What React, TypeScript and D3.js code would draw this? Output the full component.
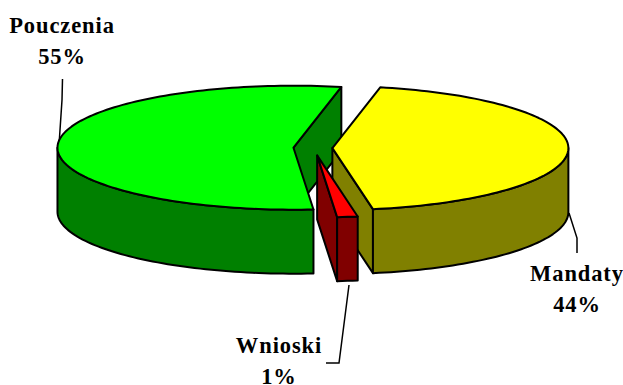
import React from 'react';
import * as d3 from 'd3';

const categories = ['Mandaty', 'Wnioski', 'Pouczenia'];
const shares = [44, 1.4, 54.6];
const percentLabels = ['44%', '1%', '55%'];
const topColors = ['#ffff00', '#ff0000', '#00ff00'];
const sideColors = ['#808000', '#800000', '#008000'];
const explode = [0.08, 0.12, 0.085];
const drawOrder = [2, 0, 1];

const labelPos = [
    { x: 577, y: 281 },
    { x: 279, y: 353 },
    { x: 62, y: 33 }
];
const leaders = [
    [[569, 213], [577, 238], [577, 253]],
    [[349, 285], [339, 363], [326, 363]],
    [[59, 145], [62, 100], [62.5, 79]]
];

const cx = 313.5, cy = 148, rx = 236, ry = 62, depth = 64;
const rad = (deg: number) => deg * Math.PI / 180;

const sx = d3.scaleLinear().domain([-1, 1]).range([-rx, rx]);
const sy = d3.scaleLinear().domain([-1, 1]).range([-ry, ry]);
const line = d3.line();

const pie = d3.pie<number>()
    .sort(null)
    .startAngle(rad(11.7))
    .endAngle(rad(371.7));

// points along the rim between two angles
const rim = (ox: number, oy: number, a0: number, a1: number, dy = 0) => {
    const steps = Math.max(2, Math.ceil((a1 - a0) / rad(1.5)));
    return d3.range(steps + 1).map(i => {
        const t = a0 + (a1 - a0) * i / steps;
        return [ox + sx(Math.sin(t)), oy + sy(-Math.cos(t)) + dy] as [number, number];
    });
};

const App = () => {
    const arcs = pie(shares);

    return (
        <svg width={623} height={385} style={{ position: 'absolute', left: 0, top: 0, background: '#fff' }}>
            {leaders.map((pts, i) => (
                <path key={i} d={line(pts as [number, number][]) || ''} fill="none" stroke="#000" strokeWidth={1.5} />
            ))}
            {drawOrder.map(i => {
                const { startAngle: a0, endAngle: a1 } = arcs[i];
                const mid = (a0 + a1) / 2;
                const ox = cx + sx(Math.sin(mid)) * explode[i];
                const oy = cy + sy(-Math.cos(mid)) * explode[i];

                const top = [[ox, oy], ...rim(ox, oy, a0, a1)] as [number, number][];

                // front of the cake: only the part of the rim facing the viewer
                const w0 = Math.max(a0, rad(90));
                const w1 = Math.min(a1, rad(270));
                const wall = [...rim(ox, oy, w0, w1), ...rim(ox, oy, w0, w1, depth).reverse()];

                const faces: [number, number][][] = [];
                [[a0, Math.sin(a0) < 0], [a1, Math.sin(a1) > 0]].forEach(([a, visible]) => {
                    if (!visible) return;
                    const edge = rim(ox, oy, a as number, a as number)[0];
                    faces.push([[ox, oy], edge, [edge[0], edge[1] + depth], [ox, oy + depth]]);
                });

                return (
                    <g key={categories[i]} stroke="#000" strokeWidth={2} strokeLinejoin="round">
                        {faces.map((f, j) => (
                            <path key={j} d={line(f) + 'Z'} fill={sideColors[i]} />
                        ))}
                        <path d={line(wall) + 'Z'} fill={sideColors[i]} />
                        <path d={line(top) + 'Z'} fill={topColors[i]} />
                    </g>
                );
            })}
            {categories.map((name, i) => (
                <text
                    key={name}
                    textAnchor="middle"
                    fontFamily="'Liberation Serif', serif"
                    fontWeight="bold"
                    fontSize={22.5}
                    letterSpacing={0.9}
                    fill="#000"
                >
                    <tspan x={labelPos[i].x} y={labelPos[i].y}>{name}</tspan>
                    <tspan x={labelPos[i].x} y={labelPos[i].y + 31}>{percentLabels[i]}</tspan>
                </text>
            ))}
        </svg>
    );
};

export default App;
